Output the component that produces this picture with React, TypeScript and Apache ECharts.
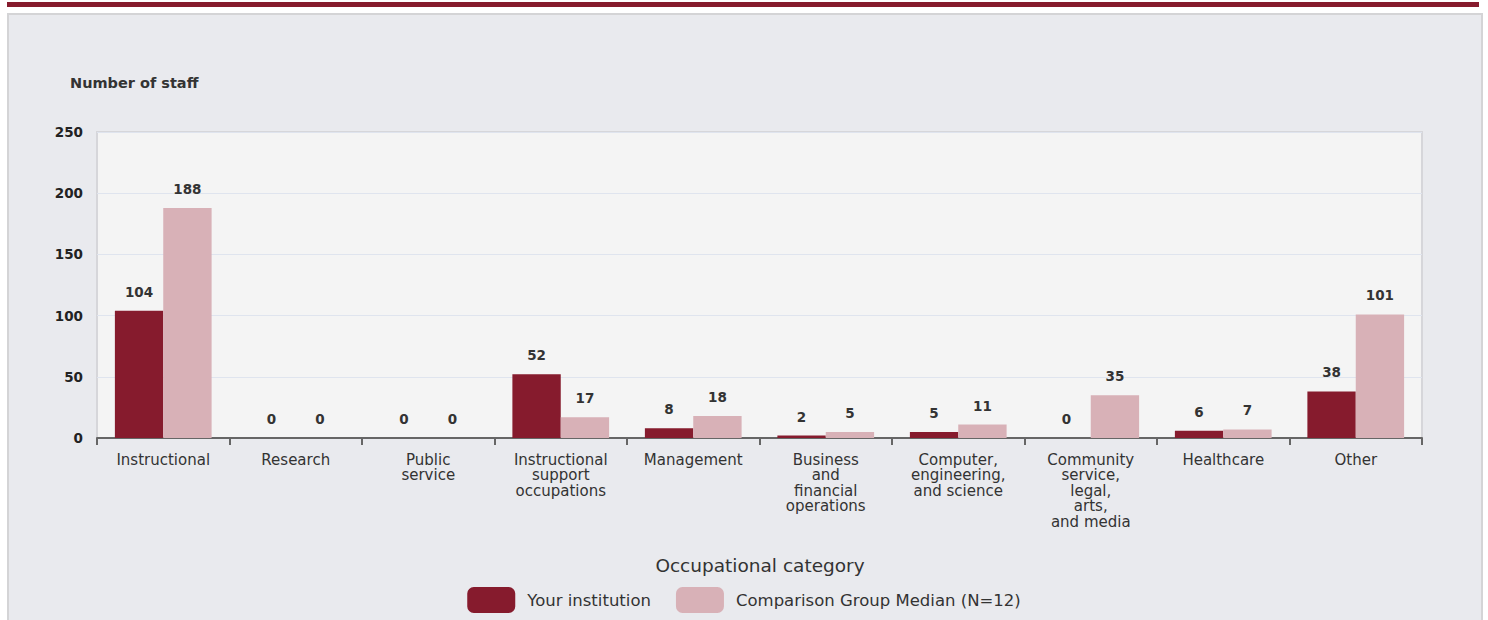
import React, { useEffect, useRef } from "react";
import * as echarts from "echarts";

const categories = [
  "Instructional",
  "Research",
  "Public\nservice",
  "Instructional\nsupport\noccupations",
  "Management",
  "Business\nand\nfinancial\noperations",
  "Computer,\nengineering,\nand science",
  "Community\nservice,\nlegal,\narts,\nand media",
  "Healthcare",
  "Other",
];
const yourInstitution = [104, 0, 0, 52, 8, 2, 5, 0, 6, 38];
const comparisonMedian = [188, 0, 0, 17, 18, 5, 11, 35, 7, 101];
const yTicks = { min: 0, max: 250, interval: 50 };
const seriesNames = ["Your institution", "Comparison Group Median (N=12)"];

const FONT = "'DejaVu Sans', sans-serif";

export default function App() {
  const ref = useRef<HTMLDivElement>(null);
  useEffect(() => {
    document.body.style.margin = "0";
    const chart = echarts.init(ref.current!, null, { renderer: "svg" });
    const label = {
      show: true,
      position: "top" as const,
      distance: 12,
      fontFamily: FONT,
      fontSize: 13.5,
      fontWeight: "bold" as const,
      color: "#333",
      formatter: (p: any) => String(p.value),
    };
    chart.setOption({
      animation: false,
      backgroundColor: "#ffffff",
      textStyle: { fontFamily: FONT },
      graphic: [
        {
          type: "rect",
          z: -10,
          shape: { x: 7, y: 2, width: 1472, height: 5 },
          style: { fill: "#861b2d" },
          silent: true,
        },
        {
          type: "rect",
          z: -10,
          shape: { x: 8, y: 14, width: 1474, height: 620 },
          style: { fill: "#e9eaee", stroke: "#d4d4d6", lineWidth: 2 },
          silent: true,
        },
        {
          type: "text",
          x: 70,
          y: 83,
          style: {
            text: "Number of staff",
            fontFamily: FONT,
            fontSize: 14.5,
            fontWeight: "bold",
            fill: "#333",
            align: "left",
            verticalAlign: "middle",
          },
        },
        {
          type: "text",
          x: 760,
          y: 565,
          style: {
            text: "Occupational category",
            fontFamily: FONT,
            fontSize: 18.5,
            fill: "#333",
            align: "center",
            verticalAlign: "middle",
          },
        },
      ],
      grid: {
        left: 97,
        right: 66,
        top: 132,
        bottom: 182,
        show: true,
        backgroundColor: "#f4f4f4",
        borderColor: "#d6d6da",
        borderWidth: 2,
      },
      legend: {
        data: seriesNames,
        left: "center",
        top: 582,
        itemWidth: 48,
        itemHeight: 26,
        itemGap: 25,
        icon: "roundRect",
        textStyle: {
          fontFamily: FONT,
          fontSize: 16.5,
          color: "#333",
          padding: [0, 0, 0, 7],
        },
      },
      xAxis: {
        type: "category",
        data: categories,
        axisLine: { lineStyle: { color: "#666", width: 2 } },
        axisTick: { show: true, length: 7, lineStyle: { color: "#666", width: 2 } },
        axisLabel: {
          interval: 0,
          margin: 14,
          fontFamily: FONT,
          fontSize: 15,
          lineHeight: 15.5,
          color: "#333",
          align: "center",
        },
      },
      yAxis: {
        type: "value",
        min: yTicks.min,
        max: yTicks.max,
        interval: yTicks.interval,
        axisLine: { show: false },
        axisTick: { show: false },
        splitLine: { lineStyle: { color: "#dfe4ee", width: 1 } },
        axisLabel: {
          margin: 14,
          fontFamily: FONT,
          fontSize: 13.5,
          fontWeight: "bold",
          color: "#222",
        },
      },
      series: [
        {
          name: seriesNames[0],
          type: "bar",
          data: yourInstitution,
          barGap: "0%",
          barCategoryGap: "27%",
          itemStyle: { color: "#861b2d" },
          label,
        },
        {
          name: seriesNames[1],
          type: "bar",
          data: comparisonMedian,
          itemStyle: { color: "#d8b1b7" },
          label,
        },
      ],
    });
    return () => chart.dispose();
  }, []);
  return <div ref={ref} style={{ width: 1488, height: 620 }} />;
}
